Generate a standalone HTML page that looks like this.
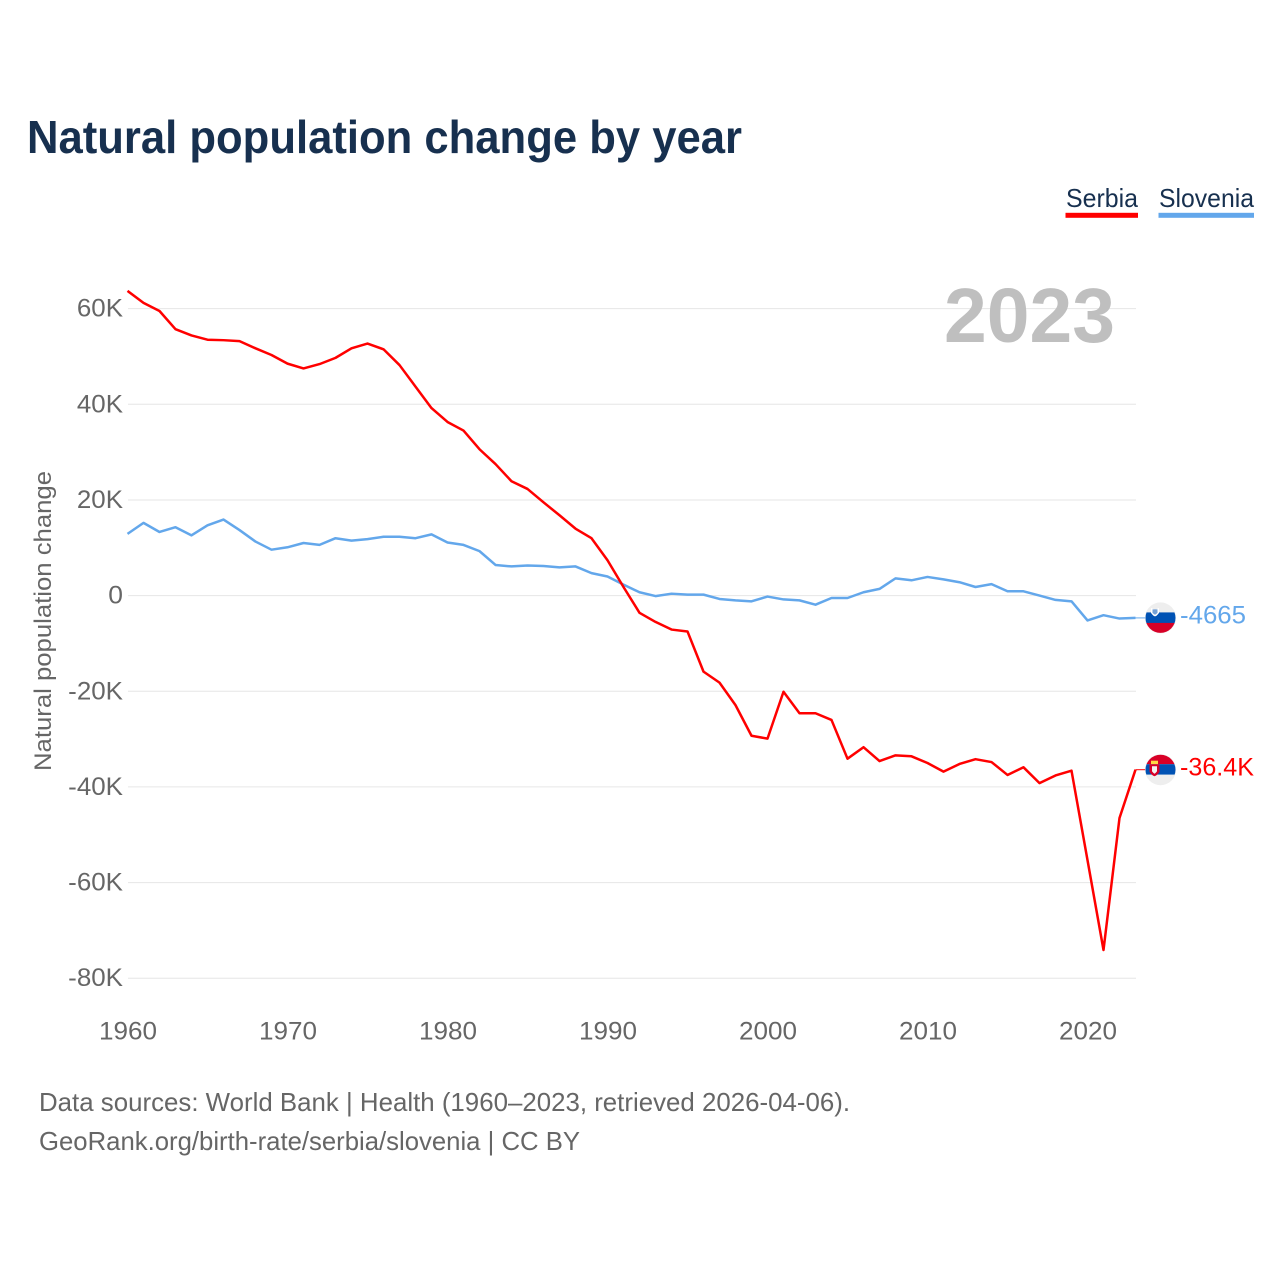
<!DOCTYPE html>
<html lang="en">
<head>
<meta charset="utf-8">
<title>Natural population change by year</title>
<style>
html,body{margin:0;padding:0;background:#fff;width:1280px;height:1280px;overflow:hidden}
svg{display:block;font-family:"Liberation Sans",sans-serif}
</style>
</head>
<body>
<svg id="chart" xmlns="http://www.w3.org/2000/svg" width="1280" height="1280" viewBox="0 0 1280 1280">
  <defs>
    <clipPath id="flag-clip"><circle cx="0" cy="0" r="15"/></clipPath>
  </defs>
  <text x="27" y="153" font-size="46" font-weight="700" fill="#17304f" textLength="715" lengthAdjust="spacingAndGlyphs">Natural population change by year</text>

  <g>
    <g>
      <text x="1066" y="207" font-size="26" fill="#17304f" textLength="72" lengthAdjust="spacingAndGlyphs">Serbia</text>
      <rect x="1065.5" y="212.8" width="72.5" height="5" fill="#ff0000"/>
    </g>
    <g>
      <text x="1159" y="207" font-size="26" fill="#17304f" textLength="95" lengthAdjust="spacingAndGlyphs">Slovenia</text>
      <rect x="1158.5" y="212.8" width="95.5" height="5" fill="#63a7eb"/>
    </g>
  </g>

  <g id="grid"></g>
  <g id="y-axis"></g>
  <g id="x-axis"></g>

  <text transform="translate(51,621) rotate(-90)" text-anchor="middle" font-size="24" fill="#666666" textLength="300" lengthAdjust="spacingAndGlyphs">Natural population change</text>

  <text x="944" y="342" font-size="77" font-weight="700" fill="#bfbfbf" textLength="171" lengthAdjust="spacingAndGlyphs">2023</text>

  <g id="series"></g>

  <g id="flag-slovenia">
    <circle r="15.5" fill="#eeeeee"/>
    <g clip-path="url(#flag-clip)">
      <rect x="-16" y="-16" width="32" height="11" fill="#eeeeee"/>
      <rect x="-16" y="-5.5" width="32" height="11" fill="#0052b4"/>
      <rect x="-16" y="5" width="32" height="11" fill="#d80027"/>
      <path d="M-9.5,-10 L-5.5,-8 L-1.5,-10 V-5 Q-3.5,-2 -5.5,-1.5 Q-7.5,-2 -9.5,-5 Z" fill="#ffffff"/>
      <path d="M-8,-8.5 H-3 V-5 Q-4.5,-3.5 -5.5,-3.2 Q-6.5,-3.5 -8,-5 Z" fill="#0052b4" opacity="0.55"/>
    </g>
  </g>
  <g id="flag-serbia">
    <circle r="15.5" fill="#eeeeee"/>
    <g clip-path="url(#flag-clip)">
      <rect x="-16" y="-16" width="32" height="10.5" fill="#d80027"/>
      <rect x="-16" y="-5.5" width="32" height="10.5" fill="#0052b4"/>
      <rect x="-16" y="5" width="32" height="11" fill="#eeeeee"/>
      <rect x="-9.5" y="-9" width="7" height="3.5" fill="#ffda44"/>
      <path d="M-11,-5.5 H-1 V2 Q-3,5.5 -6,6.5 Q-9,5.5 -11,2 Z" fill="#d80027"/>
      <path d="M-8.5,-3.5 H-3.5 V1.5 Q-5,3.5 -6,4 Q-7,3.5 -8.5,1.5 Z" fill="#f2f2f2"/>
    </g>
  </g>
  <g id="end-labels"></g>

  <g>
    <text x="39" y="1111" font-size="26" fill="#666666" textLength="811" lengthAdjust="spacingAndGlyphs">Data sources: World Bank | Health (1960–2023, retrieved 2026-04-06).</text>
    <text x="39" y="1150" font-size="26" fill="#666666" textLength="541" lengthAdjust="spacingAndGlyphs">GeoRank.org/birth-rate/serbia/slovenia | CC BY</text>
  </g>
</svg>
<script>
const years = [1960,1961,1962,1963,1964,1965,1966,1967,1968,1969,1970,1971,1972,1973,1974,1975,1976,1977,1978,1979,1980,1981,1982,1983,1984,1985,1986,1987,1988,1989,1990,1991,1992,1993,1994,1995,1996,1997,1998,1999,2000,2001,2002,2003,2004,2005,2006,2007,2008,2009,2010,2011,2012,2013,2014,2015,2016,2017,2018,2019,2020,2021,2022,2023];
const serbiaValues = [63.7,61.2,59.5,55.7,54.4,53.5,53.4,53.2,51.7,50.3,48.5,47.5,48.4,49.7,51.7,52.7,51.5,48.2,43.7,39.2,36.3,34.5,30.6,27.5,23.9,22.3,19.5,16.8,14.0,12.0,7.4,1.8,-3.6,-5.5,-7.1,-7.5,-15.9,-18.2,-22.9,-29.3,-29.9,-20.1,-24.6,-24.6,-26.0,-34.1,-31.7,-34.6,-33.4,-33.6,-35.0,-36.8,-35.2,-34.2,-34.8,-37.5,-35.9,-39.2,-37.6,-36.6,-55.3,-74.1,-46.5,-36.4];
const sloveniaValues = [12.9,15.2,13.3,14.3,12.6,14.7,15.9,13.7,11.3,9.6,10.1,11.0,10.6,12.0,11.5,11.8,12.3,12.3,12.0,12.8,11.1,10.6,9.3,6.4,6.1,6.3,6.2,5.9,6.1,4.7,4.0,2.3,0.7,-0.1,0.4,0.2,0.2,-0.7,-1.0,-1.2,-0.2,-0.8,-1.0,-1.9,-0.5,-0.5,0.7,1.4,3.6,3.2,3.9,3.4,2.8,1.8,2.4,0.9,0.9,0,-0.9,-1.2,-5.2,-4.1,-4.8,-4.665];
const yTicks = [60,40,20,0,-20,-40,-60,-80];
const xTicks = [1960,1970,1980,1990,2000,2010,2020];

const NS = 'http://www.w3.org/2000/svg';
const xScale = function (yr) { return 127.5 + (yr - 1960) * 16; };
const yScale = function (v) { return 595.6 - v * 4.783; };
const xRight = xScale(2023);

function svgEl(tag, parent) {
  const el = document.createElementNS(NS, tag);
  parent.appendChild(el);
  return el;
}
function yLabel(v) { return v === 0 ? '0' : v + 'K'; }
function endLabel(v) {
  return Math.abs(v) < 10 ? String(Math.round(v * 1000)) : v.toFixed(1) + 'K';
}

const gridGroup = document.getElementById('grid');
const yAxisGroup = document.getElementById('y-axis');
yTicks.forEach(function (v) {
  const line = svgEl('line', gridGroup);
  
  
  line.setAttribute('x1', '128');
  line.setAttribute('x2', '1136');
  line.setAttribute('y1', yScale(v));
  line.setAttribute('y2', yScale(v));
  line.setAttribute('stroke', '#e6e6e6');
  line.setAttribute('stroke-width', '1');

  const label = svgEl('text', yAxisGroup);
  
  
  label.setAttribute('x', '123');
  label.setAttribute('y', yScale(v) + 8);
  label.setAttribute('text-anchor', 'end');
  label.setAttribute('font-size', '25');
  label.setAttribute('fill', '#666666');
  const text = yLabel(v);
  label.setAttribute('textLength', text.length * 14.7 + (v < 0 ? -6 : 0) + (v === 0 ? 0 : 2));
  label.setAttribute('lengthAdjust', 'spacingAndGlyphs');
  label.textContent = text;
});

const xAxisGroup = document.getElementById('x-axis');
xTicks.forEach(function (yr) {
  const label = svgEl('text', xAxisGroup);
  
  
  label.setAttribute('x', 128 + (yr - 1960) * 16);
  label.setAttribute('y', '1039.5');
  label.setAttribute('text-anchor', 'middle');
  label.setAttribute('font-size', '25');
  label.setAttribute('fill', '#666666');
  label.setAttribute('textLength', '58');
  label.setAttribute('lengthAdjust', 'spacingAndGlyphs');
  label.textContent = yr;
});

function points(values) {
  return values.map(function (v, i) { return xScale(years[i]) + ',' + yScale(v); }).join(' ');
}

const seriesGroup = document.getElementById('series');

const sloveniaLine = svgEl('polyline', seriesGroup);


sloveniaLine.setAttribute('points', points(sloveniaValues));
sloveniaLine.setAttribute('fill', 'none');
sloveniaLine.setAttribute('stroke', '#63a7eb');
sloveniaLine.setAttribute('stroke-width', '2.5');
sloveniaLine.setAttribute('stroke-linejoin', 'round');

const serbiaLine = svgEl('polyline', seriesGroup);


serbiaLine.setAttribute('points', points(serbiaValues));
serbiaLine.setAttribute('fill', 'none');
serbiaLine.setAttribute('stroke', '#ff0000');
serbiaLine.setAttribute('stroke-width', '2.5');
serbiaLine.setAttribute('stroke-linejoin', 'round');

const sloveniaEndY = yScale(sloveniaValues[sloveniaValues.length - 1]);
const serbiaEndY = yScale(serbiaValues[serbiaValues.length - 1]);

const sloveniaStub = svgEl('line', seriesGroup);


sloveniaStub.setAttribute('x1', xRight);
sloveniaStub.setAttribute('x2', '1147');
sloveniaStub.setAttribute('y1', sloveniaEndY);
sloveniaStub.setAttribute('y2', sloveniaEndY);
sloveniaStub.setAttribute('stroke', '#63a7eb');
sloveniaStub.setAttribute('stroke-width', '1');

const serbiaStub = svgEl('line', seriesGroup);


serbiaStub.setAttribute('x1', xRight);
serbiaStub.setAttribute('x2', '1147');
serbiaStub.setAttribute('y1', serbiaEndY);
serbiaStub.setAttribute('y2', serbiaEndY);
serbiaStub.setAttribute('stroke', '#ff0000');
serbiaStub.setAttribute('stroke-width', '1');

document.getElementById('flag-slovenia').setAttribute('transform', 'translate(1160.5,' + sloveniaEndY + ')');
document.getElementById('flag-serbia').setAttribute('transform', 'translate(1160.5,' + serbiaEndY + ')');

const endGroup = document.getElementById('end-labels');

const sloveniaLabel = svgEl('text', endGroup);


sloveniaLabel.setAttribute('x', '1180');
sloveniaLabel.setAttribute('y', sloveniaEndY + 5.5);
sloveniaLabel.setAttribute('font-size', '25');
sloveniaLabel.setAttribute('fill', '#63a7eb');
sloveniaLabel.setAttribute('textLength', '66');
sloveniaLabel.setAttribute('lengthAdjust', 'spacingAndGlyphs');
sloveniaLabel.textContent = endLabel(sloveniaValues[sloveniaValues.length - 1]);

const serbiaLabel = svgEl('text', endGroup);


serbiaLabel.setAttribute('x', '1180');
serbiaLabel.setAttribute('y', serbiaEndY + 6);
serbiaLabel.setAttribute('font-size', '25');
serbiaLabel.setAttribute('fill', '#ff0000');
serbiaLabel.setAttribute('textLength', '74');
serbiaLabel.setAttribute('lengthAdjust', 'spacingAndGlyphs');
serbiaLabel.textContent = endLabel(serbiaValues[serbiaValues.length - 1]);
</script>
</body>
</html>
